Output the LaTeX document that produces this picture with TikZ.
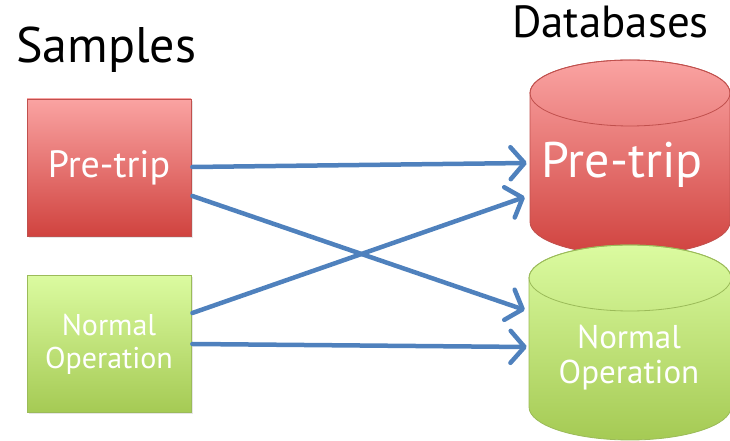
\documentclass[tikz,border=0pt]{standalone}
\usepackage{fontspec}
\setmainfont{PT Sans}
\usetikzlibrary{arrows.meta,calc,shadows}
\definecolor{arrowblue}{HTML}{4F81BD}
\definecolor{redtop}{HTML}{FAA3A2}
\definecolor{redbot}{HTML}{D0433F}
\definecolor{redline}{HTML}{C0504D}
\definecolor{greentop}{HTML}{DBFBA0}
\definecolor{greenbot}{HTML}{A5CA54}
\definecolor{greenline}{HTML}{9BBB59}
\begin{document}
\begin{tikzpicture}[x=1pt,y=1pt,
  box/.style={minimum width=164pt,minimum height=137pt,inner sep=0pt,text=white,align=center,line width=0.8pt,
    drop shadow={shadow xshift=1.5pt,shadow yshift=-2pt,opacity=0.2}},
  redfill/.style={top color=redtop,bottom color=redbot,draw=redline},
  greenfill/.style={top color=greentop,bottom color=greenbot,draw=greenline},
  conn/.style={draw=arrowblue,line width=4.5pt,line cap=round,
    -{Straight Barb[length=14pt,width=32pt,line width=4.5pt,round]}},
  anchorbox/.style={inner sep=0pt,minimum width=203pt,minimum height=130pt},
  title/.style={anchor=base west,inner sep=0pt,font=\fontsize{#1}{#1}\selectfont}
]
\useasboundingbox (0,0) rectangle (730,441);

% titles
\node[title=50] (samples) at (16,378) {Samples};
\node[title=45] (databases) at (512,403) {Databases};

% sample boxes
\node[box,redfill,font=\fontsize{38}{40}\selectfont] (pre) at (109,273.5) {Pre-trip};
\node[box,greenfill,font=\fontsize{30}{33}\selectfont] (normal) at (109,97) {Normal\\Operation};

% red database cylinder
\shade[redfill,line width=0.8pt] (530,348) -- (530,219) arc[start angle=180,end angle=360,x radius=100,y radius=33]
  -- (730,348) arc[start angle=0,end angle=180,x radius=100,y radius=33] -- cycle;
\draw[redline,line width=0.8pt] (630,348) ellipse[x radius=100,y radius=33];
% green database cylinder
\shade[greenfill,line width=0.8pt] (529,163) -- (529,34) arc[start angle=180,end angle=360,x radius=101,y radius=33]
  -- (731,163) arc[start angle=0,end angle=180,x radius=101,y radius=33] -- cycle;
\draw[greenline,line width=0.8pt] (630,163) ellipse[x radius=101,y radius=33];

\node[anchorbox] (dbpre) at (628.5,276) {};
\node[anchorbox] (dbnorm) at (628.5,94) {};
\node[text=white,font=\fontsize{50}{52}\selectfont,inner sep=0pt] (dbpretext) at (622,276) {Pre-trip};
\node[text=white,font=\fontsize{33}{35}\selectfont,align=center,inner sep=0pt] (dbnormtext) at (629,83) {Normal\\Operation};

% connectors
\draw[conn] ($(pre.east)+(1,0.5)$) -- ($(dbpre.west)+(0,2)$);
\draw[conn] ($(pre.east)+(1,-28.5)$) -- ($(dbnorm.west)+(-2,37)$);
\draw[conn] ($(normal.east)+(1,31)$) -- ($(dbpre.west)+(-2,-32)$);
\draw[conn] ($(normal.east)+(1,0)$) -- ($(dbnorm.west)+(0,0)$);
\end{tikzpicture}
\end{document}
